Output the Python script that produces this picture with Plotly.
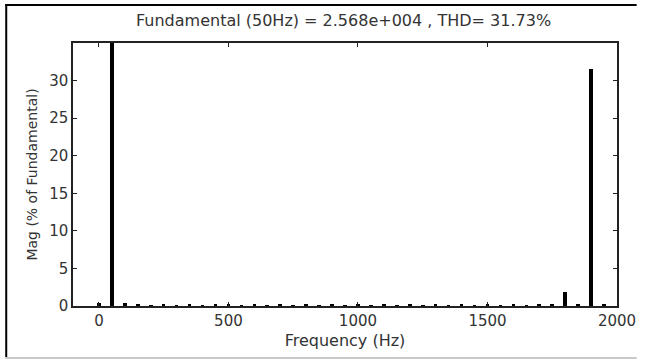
import plotly.graph_objects as go

# Harmonic spectrum data (Hz, % of fundamental)
freqs = [0, 50, 100, 150, 200, 250, 300, 350, 400, 450, 500, 550, 600, 650,
         700, 750, 800, 850, 900, 950, 1000, 1050, 1100, 1150, 1200, 1250,
         1300, 1350, 1400, 1450, 1500, 1550, 1600, 1650, 1700, 1750, 1800,
         1850, 1900, 1950]
mags = [0.45, 100.0, 0.45, 0.15, 0.12, 0.15, 0.12, 0.15, 0.12, 0.15, 0.15,
        0.12, 0.15, 0.12, 0.15, 0.12, 0.15, 0.12, 0.15, 0.12, 0.15, 0.12,
        0.15, 0.12, 0.15, 0.12, 0.15, 0.12, 0.15, 0.12, 0.15, 0.12, 0.15,
        0.12, 0.15, 0.15, 1.8, 0.15, 31.6, 0.15]

x_ticks = [0, 500, 1000, 1500, 2000]
y_ticks = [0, 5, 10, 15, 20, 25, 30]
title_text = "Fundamental (50Hz) = 2.568e+004 , THD= 31.73%"
x_label = "Frequency (Hz)"
y_label = "Mag (% of Fundamental)"

FONT = "DejaVu Sans"
TXT = "#333333"

fig = go.Figure()
fig.add_trace(go.Bar(x=freqs, y=mags, width=14,
                     marker=dict(color="black", line=dict(width=0))))

W, H = 648, 361
L, R, T, B = 73, 627, 43, 306
pw, ph = R - L, B - T


def px(x):
    return (x - L) / pw


def py(y):
    return (B - y) / ph


fig.update_layout(
    width=W, height=H,
    margin=dict(l=L, r=W - R, t=T, b=H - B, pad=0),
    paper_bgcolor="white", plot_bgcolor="white",
    showlegend=False, bargap=0,
    xaxis=dict(range=[-100, 2000], tickvals=x_ticks, ticks="inside",
               ticklen=4, tickcolor="#222", showgrid=False, zeroline=False,
               showline=True, linecolor="#222", linewidth=1.5, mirror="ticks",
               tickfont=dict(family=FONT, size=15, color=TXT),
               title=dict(text=x_label, font=dict(family=FONT, size=16, color=TXT),
                          standoff=6)),
    yaxis=dict(range=[0, 35], tickvals=y_ticks, ticks="inside",
               ticklen=4, tickcolor="#222", showgrid=False, zeroline=False,
               showline=True, linecolor="#222", linewidth=1.5, mirror="ticks",
               tickfont=dict(family=FONT, size=15, color=TXT),
               title=dict(text=y_label, font=dict(family=FONT, size=14, color=TXT),
                          standoff=8)),
    annotations=[dict(text=title_text, xref="paper", yref="paper",
                      x=px(348), y=py(21), xanchor="center", yanchor="middle",
                      showarrow=False,
                      font=dict(family=FONT, size=16, color=TXT))],
    shapes=[
        dict(type="line", xref="paper", yref="paper", x0=px(5), x1=px(5),
             y0=py(4), y1=py(357), line=dict(color="black", width=2)),
        dict(type="line", xref="paper", yref="paper", x0=px(4), x1=px(647),
             y0=py(5), y1=py(5), line=dict(color="black", width=2)),
        dict(type="line", xref="paper", yref="paper", x0=px(4), x1=px(647),
             y0=py(358), y1=py(358), line=dict(color="#c8c8c8", width=2)),
    ],
)

fig.write_html("out.html")
